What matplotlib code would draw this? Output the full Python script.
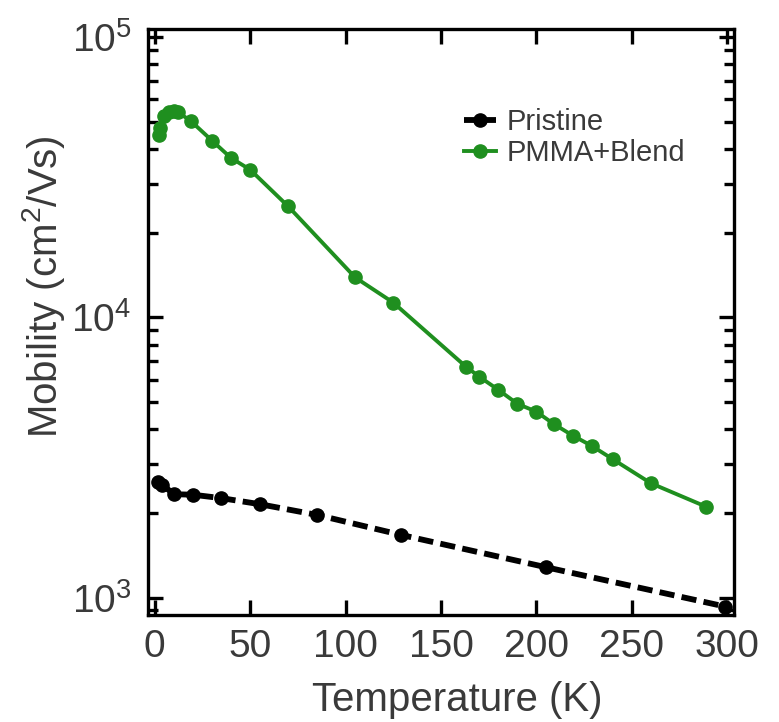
import numpy as np
import matplotlib
matplotlib.use("Agg")
import matplotlib.pyplot as plt
from matplotlib.legend_handler import HandlerLine2D
from matplotlib.ticker import LogLocator, FixedLocator

plt.rcParams['font.family'] = ['Liberation Sans', 'DejaVu Sans']
plt.rcParams['mathtext.fontset'] = 'custom'
plt.rcParams['mathtext.rm'] = 'Liberation Sans'
plt.rcParams['mathtext.it'] = 'Liberation Sans:italic'

# data
temp_pristine = [1.5, 4, 10, 20, 35, 55, 85, 129, 205, 299]
mob_pristine = [2590, 2530, 2340, 2330, 2265, 2156, 1974, 1675, 1284, 929]

temp_pmma = [2, 3, 5, 7.5, 10, 12, 19, 30, 40, 50, 70, 105, 125,
             163, 170, 180, 190, 200, 209, 219, 229, 240, 260, 289]
mob_pmma = [44700, 47500, 52500, 54000, 54700, 54200, 50200, 42800, 37100,
            33700, 24900, 13900, 11300, 6680, 6150, 5520, 4920, 4610, 4170,
            3790, 3480, 3120, 2560, 2110]

x_ticks = [0, 50, 100, 150, 200, 250, 300]

text_col = '#3a3a3a'
green = '#1f8f1f'


class EndMarker(HandlerLine2D):
    # marker drawn at the right end of the legend line
    def get_xdata(self, legend, xdescent, ydescent, width, height, fontsize):
        xdata = np.array([-xdescent, -xdescent + width])
        return xdata, np.array([-xdescent + width - 4])


fig = plt.figure(figsize=(7.79, 7.22), dpi=100)
ax = fig.add_axes([0.19, 0.1482, 0.7522, 0.8112])

ax.plot(temp_pristine, mob_pristine, color='black', lw=4.2, dashes=(2.6, 1.25),
        marker='o', ms=9.5, label='Pristine', clip_on=False, zorder=3)
ax.plot(temp_pmma, mob_pmma, color=green, lw=2.8,
        marker='o', ms=9.5, label='PMMA+Blend', zorder=3)

ax.set_yscale('log')
ax.set_xlim(-3.5, 303.5)
ax.set_ylim(867, 1.068e5)

ax.xaxis.set_major_locator(FixedLocator(x_ticks))
ax.yaxis.set_major_locator(LogLocator(base=10, numticks=5))
ax.yaxis.set_minor_locator(LogLocator(base=10, subs=np.arange(2, 10), numticks=10))
ax.yaxis.set_major_formatter(matplotlib.ticker.FuncFormatter(
    lambda v, p: r'$\mathregular{10^{%d}}$' % round(np.log10(v))))

for s in ax.spines.values():
    s.set_linewidth(2.4)

ax.tick_params(which='both', direction='in', top=True, right=True,
               width=2.4, labelsize=28, labelcolor=text_col)
ax.tick_params(which='major', length=11)
ax.tick_params(which='minor', length=7)
ax.tick_params(axis='x', pad=10)
ax.tick_params(axis='y', pad=12)

ax.set_xlabel('Temperature (K)', fontsize=29, color=text_col)
ax.xaxis.set_label_coords(0.527, -0.112)
ax.set_ylabel('Mobility (cm$^2$/Vs)', fontsize=29, color=text_col)
ax.yaxis.set_label_coords(-0.138, 0.56)

ax.legend(loc='upper left', bbox_to_anchor=(0.539, 0.866), frameon=False,
          fontsize=21, handlelength=1.1, handletextpad=0.35, labelspacing=0.12,
          borderpad=0, borderaxespad=0, labelcolor=text_col,
          handler_map={matplotlib.lines.Line2D: EndMarker()})

fig.savefig('out.png', dpi=100)
